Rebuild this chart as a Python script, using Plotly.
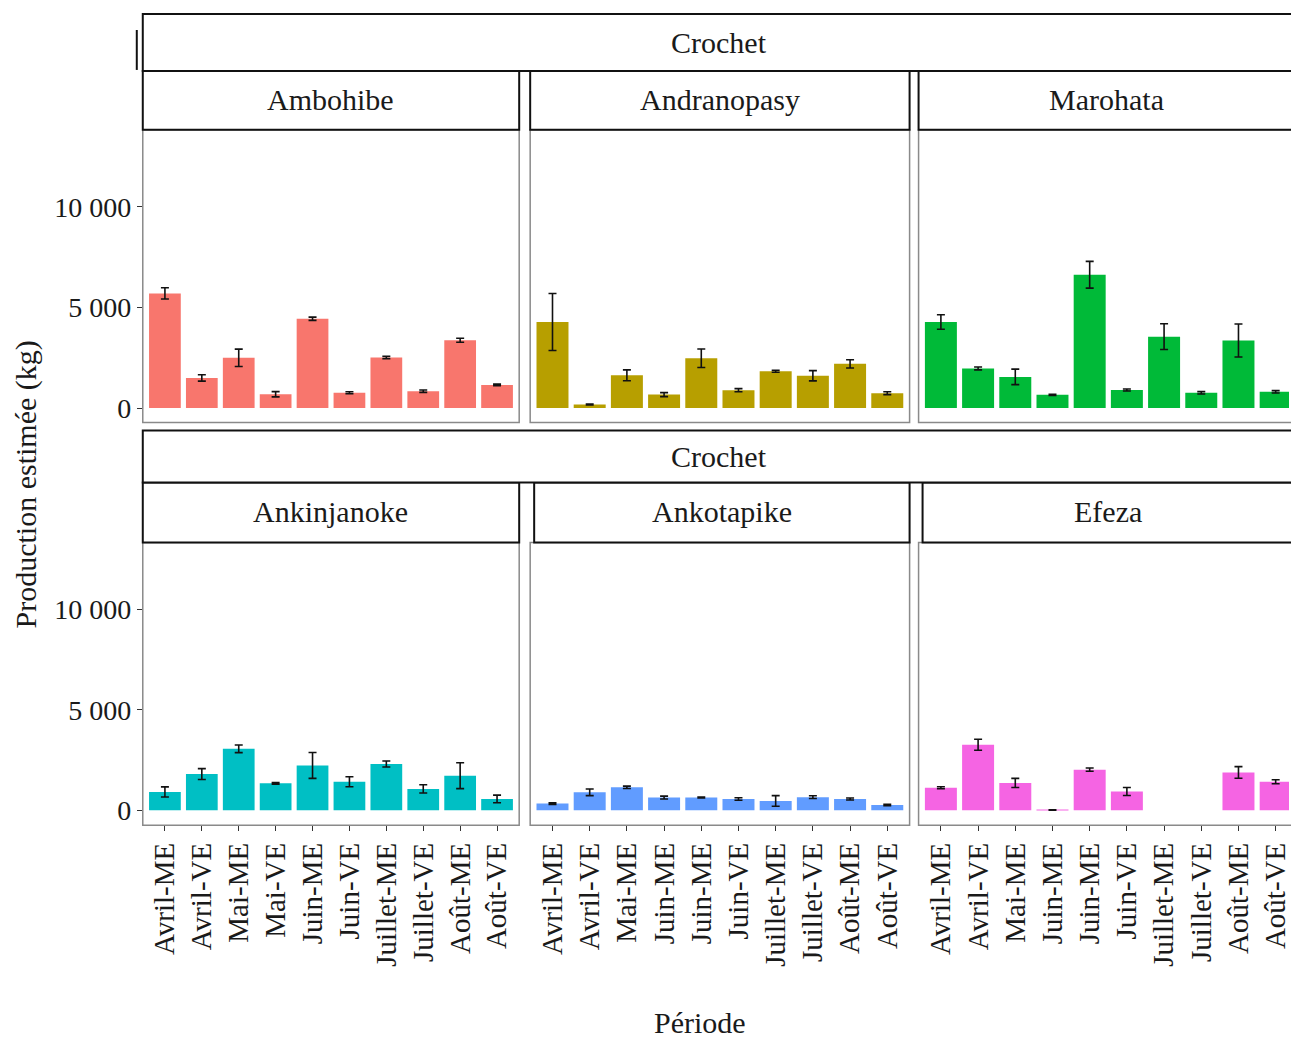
import plotly.graph_objects as go

# ---- data -------------------------------------------------------------
sites_top = ["Ambohibe", "Andranopasy", "Marohata"]
sites_bottom = ["Ankinjanoke", "Ankotapike", "Efeza"]

periods_a = ["Avril-ME", "Avril-VE", "Mai-ME", "Mai-VE", "Juin-ME",
             "Juin-VE", "Juillet-ME", "Juillet-VE", "Août-ME", "Août-VE"]
periods_b = ["Avril-ME", "Avril-VE", "Mai-ME", "Juin-ME", "Juin-ME",
             "Juin-VE", "Juillet-ME", "Juillet-VE", "Août-ME", "Août-VE"]

ambohibe = [5700, 1500, 2500, 690, 4440, 760, 2520, 840, 3370, 1150]
ambohibe_err = [280, 160, 430, 130, 80, 50, 60, 60, 100, 40]

andranopasy = [4280, 180, 1630, 670, 2480, 890, 1830, 1610, 2200, 740]
andranopasy_err = [1415, 20, 270, 100, 460, 80, 50, 255, 205, 70]

marohata = [4280, 1970, 1550, 660, 6630, 900, 3550, 760, 3360, 810]
marohata_err = [360, 70, 385, 25, 665, 50, 640, 60, 820, 60]

ankinjanoke = [910, 1800, 3060, 1340, 2230, 1420, 2300, 1060, 1720, 560]
ankinjanoke_err = [250, 270, 190, 40, 645, 250, 150, 205, 645, 190]

ankotapike = [330, 890, 1140, 630, 630, 560, 460, 650, 560, 260]
ankotapike_err = [40, 165, 60, 70, 20, 60, 265, 70, 50, 40]

efeza = [1120, 3260, 1360, 10, 2020, 930, None, None, 1880, 1420]
efeza_err = [50, 275, 225, 10, 80, 200, 0, 0, 290, 100]

colors = ["#F8766D", "#B79F00", "#00BA38", "#00BFC4", "#619CFF", "#F564E3"]
group_label = "Crochet"
y_ticks = [0, 5000, 10000]
y_tick_text = ["0", "5 000", "10 000"]

# ---- geometry (pixels -> paper) ----------------------------------------
W, H = 1291, 1039
FONT = "Liberation Serif"
INK = "#1a1a1a"


def px(x):
    return x / W


def py(y):
    return 1 - y / H


cols = [(143, 520), (531, 911), (920, 1300)]
rows = {
    "top": dict(plot=(130, 423), strip_outer=(14, 71), strip=(71, 130),
                yrange=[-720, 13830]),
    "bottom": dict(plot=(543, 826), strip_outer=(431, 483), strip=(483, 543),
                   yrange=[-746, 13330]),
}

panels = [
    ("top", 0, sites_top[0], ambohibe, ambohibe_err, periods_a, colors[0]),
    ("top", 1, sites_top[1], andranopasy, andranopasy_err, periods_a, colors[1]),
    ("top", 2, sites_top[2], marohata, marohata_err, periods_a, colors[2]),
    ("bottom", 0, sites_bottom[0], ankinjanoke, ankinjanoke_err, periods_a, colors[3]),
    ("bottom", 1, sites_bottom[1], ankotapike, ankotapike_err, periods_b, colors[4]),
    ("bottom", 2, sites_bottom[2], efeza, efeza_err, periods_b, colors[5]),
]

fig = go.Figure()
shapes = []
annotations = []
positions = list(range(1, 11))

for i, (row, col, site, vals, errs, labels, color) in enumerate(panels, start=1):
    r = rows[row]
    x0, x1 = cols[col]
    y0, y1 = r["plot"]
    xr_end = min(x1, W)
    unit = (x1 - x0) / 10.2
    xrange = [0.4, 0.4 + (xr_end - x0) / unit]

    xa = "x" if i == 1 else f"x{i}"
    ya = "y" if i == 1 else f"y{i}"

    fig.add_trace(go.Bar(
        x=positions, y=vals, xaxis=xa, yaxis=ya,
        marker=dict(color=color, line=dict(width=0)),
        width=0.86,
        error_y=dict(type="data", array=errs, color="#111111",
                     thickness=1.6, width=4),
        showlegend=False, hoverinfo="skip",
    ))

    is_bottom = row == "bottom"
    fig.layout[f"xaxis{'' if i == 1 else i}"] = dict(
        domain=[px(x0), px(xr_end)], anchor=ya, range=xrange,
        tickmode="array", tickvals=positions, ticktext=labels,
        showticklabels=is_bottom, ticks="outside" if is_bottom else "",
        ticklen=5, tickwidth=1, tickcolor="#333333", tickangle=-90,
        ticklabeloverflow="allow",
        tickfont=dict(family=FONT, size=29, color=INK),
        showgrid=False, zeroline=False, showline=False, fixedrange=True,
    )
    fig.layout[f"yaxis{'' if i == 1 else i}"] = dict(
        domain=[py(y1), py(y0)], anchor=xa, range=r["yrange"],
        tickmode="array", tickvals=y_ticks, ticktext=y_tick_text,
        showticklabels=(col == 0), ticks="outside" if col == 0 else "",
        ticklen=5, tickwidth=1, tickcolor="#333333",
        tickfont=dict(family=FONT, size=28, color=INK),
        showgrid=False, zeroline=False, showline=False, fixedrange=True,
    )

    # panel border
    shapes.append(dict(type="rect", xref="paper", yref="paper",
                       x0=px(x0), x1=px(x1), y0=py(y1), y1=py(y0),
                       line=dict(color="#8a8a8a", width=1.5),
                       fillcolor="rgba(0,0,0,0)", layer="above"))

    # site strip
    sy0, sy1 = r["strip"]
    sx0 = x0 if not (row == "bottom" and col > 0) else x0 + 4
    shapes.append(dict(type="rect", xref="paper", yref="paper",
                       x0=px(sx0), x1=px(x1), y0=py(sy1), y1=py(sy0),
                       line=dict(color="#111111", width=2),
                       fillcolor="white", layer="above"))
    annotations.append(dict(
        x=px((sx0 + min(x1, 1296)) / 2), y=py((sy0 + sy1) / 2 - 1),
        xref="paper", yref="paper", text=site, showarrow=False,
        font=dict(family=FONT, size=30, color=INK),
        xanchor="center", yanchor="middle"))

# group strips ("Crochet") spanning each row
for row in ("top", "bottom"):
    oy0, oy1 = rows[row]["strip_outer"]
    shapes.append(dict(type="rect", xref="paper", yref="paper",
                       x0=px(143), x1=px(1300), y0=py(oy1), y1=py(oy0),
                       line=dict(color="#111111", width=2),
                       fillcolor="white", layer="above"))
    annotations.append(dict(
        x=px(720), y=py((oy0 + oy1) / 2), xref="paper", yref="paper",
        text=group_label, showarrow=False,
        font=dict(family=FONT, size=30, color=INK),
        xanchor="center", yanchor="middle"))

# small stray rule left of the top strip
shapes.append(dict(type="line", xref="paper", yref="paper",
                   x0=px(137), x1=px(137), y0=py(30), y1=py(70),
                   line=dict(color="#111111", width=2)))

# axis titles
annotations.append(dict(
    x=px(26), y=py(485), xref="paper", yref="paper",
    text="Production estimée (kg)", showarrow=False, textangle=-90,
    font=dict(family=FONT, size=30, color=INK),
    xanchor="center", yanchor="middle"))
annotations.append(dict(
    x=px(701), y=py(1023), xref="paper", yref="paper",
    text="Période", showarrow=False,
    font=dict(family=FONT, size=30, color=INK),
    xanchor="center", yanchor="middle"))

fig.update_layout(
    width=W, height=H,
    margin=dict(l=0, r=0, t=0, b=0),
    paper_bgcolor="white", plot_bgcolor="white",
    shapes=shapes, annotations=annotations,
    bargap=0.1, showlegend=False,
)

fig.write_html("out.html", config={"displayModeBar": False})
